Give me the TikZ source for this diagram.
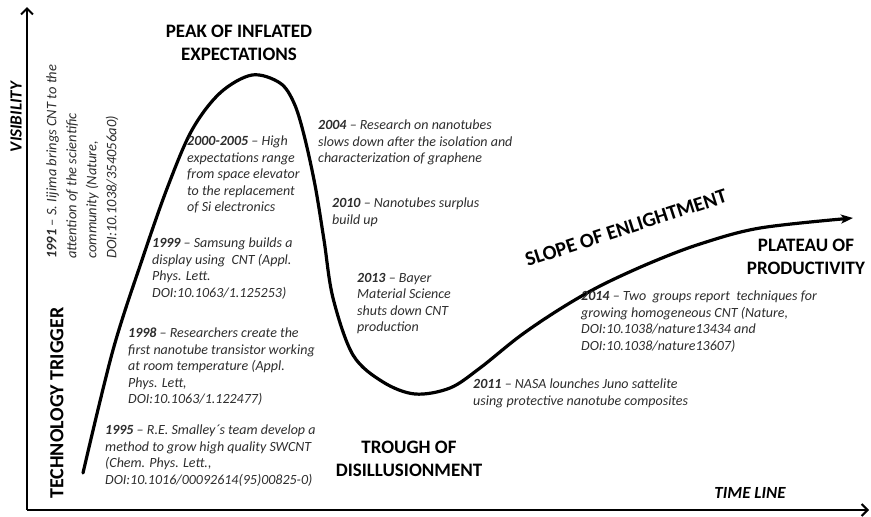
\documentclass[tikz,border=0pt]{standalone}
\usepackage{fontspec}
\setmainfont{Carlito}
\usetikzlibrary{arrows.meta}
\definecolor{txtgrey}{RGB}{45,45,45}
\tikzset{
  note/.style={align=left, anchor=north west, inner sep=0pt, text=txtgrey,
    font=\fontsize{14}{16.5}\selectfont\itshape},
  heading/.style={align=center, inner sep=0pt, text=black,
    font=\fontsize{19}{23}\selectfont\bfseries},
  axislabel/.style={inner sep=0pt, text=black,
    font=\fontsize{17}{20}\selectfont\bfseries\itshape},
  axisline/.style={line width=2.2pt, -{Straight Barb[length=6pt,width=12pt,line width=2pt]}},
  hype/.style={line width=3.2pt, line cap=round, -{Stealth[length=12pt,width=9pt,inset=3pt]}}
}
\newcommand{\yr}[1]{\textbf{#1}}
\begin{document}
\begin{tikzpicture}[x=1pt,y=-1pt]
\useasboundingbox (0,0) rectangle (871,517);
% axes
\coordinate (origin) at (27,510);
\coordinate (ytop) at (27,7);
\coordinate (xend) at (869,510);
\draw[axisline] (origin) -- (ytop);
\draw[axisline] (origin) -- (xend);
% hype curve
\draw[hype] plot[smooth, tension=0.55] coordinates {
 (83,473) (113,350) (143,257) (168,186) (192,130) (220,93) (252,75)
 (280,83) (294,103) (304,135) (315,185) (324,240) (333,298) (353,355)
 (383,382) (415,394) (450,388) (480,368) (520,336) (560,309) (600,286)
 (650,263) (700,244) (760,228) (853,218)};
% headings
\node[heading] (peak) at (239,42.5) {PEAK OF INFLATED\\EXPECTATIONS};
\node[heading] (trough) at (409,458.5) {TROUGH OF\\DISILLUSIONMENT};
\node[heading] (plateau) at (806,256.5) {PLATEAU OF\\PRODUCTIVITY};
\node[heading, rotate=90, font=\fontsize{20}{23}\selectfont\bfseries] (trigger) at (57,403) {TECHNOLOGY TRIGGER};
\node[heading, rotate=18, font=\fontsize{20.5}{23}\selectfont\bfseries] (slope) at (626,228) {SLOPE OF ENLIGHTMENT};
\node[axislabel, rotate=90] (visibility) at (16,117) {VISIBILITY};
\node[axislabel] (timeline) at (750,493) {TIME LINE};
% notes
\node[note, rotate=90, font=\fontsize{14.5}{20}\selectfont\itshape] (n1991) at (46,259)
 {\yr{1991} – S. Iijima brings CNT to the\\attention of the scientific\\community (Nature,\\DOI:10.1038/354056a0)};
\node[note] (n2000) at (187,136)
 {\yr{2000-2005} – High\\expectations range\\from space elevator\\to the replacement\\of Si electronics};
\node[note] (n1999) at (152,238)
 {\yr{1999} – Samsung builds a\\display using\ \ CNT (Appl.\\Phys. Lett.\\DOI:10.1063/1.125253)};
\node[note] (n1998) at (128,328)
 {\yr{1998} – Researchers create the\\first nanotube transistor working\\at room temperature (Appl.\\Phys. Lett,\\DOI:10.1063/1.122477)};
\node[note] (n1995) at (105,425)
 {\yr{1995} – R.E. Smalley´s team develop a\\method to grow high quality SWCNT\\(Chem. Phys. Lett.,\\DOI:10.1016/00092614(95)00825-0)};
\node[note] (n2004) at (318,120)
 {\yr{2004} – Research on nanotubes\\slows down after the isolation and\\characterization of graphene};
\node[note] (n2010) at (332,198)
 {\yr{2010} – Nanotubes surplus\\build up};
\node[note] (n2013) at (357,273)
 {\yr{2013} – Bayer\\Material Science\\shuts down CNT\\production};
\node[note] (n2014) at (581,291)
 {\yr{2014} – Two\ \ groups report\ \ techniques for\\growing homogeneous CNT (Nature,\\DOI:10.1038/nature13434 and\\DOI:10.1038/nature13607)};
\node[note] (n2011) at (473,379)
 {\yr{2011} – NASA lounches Juno sattelite\\using protective nanotube composites};
\end{tikzpicture}
\end{document}
